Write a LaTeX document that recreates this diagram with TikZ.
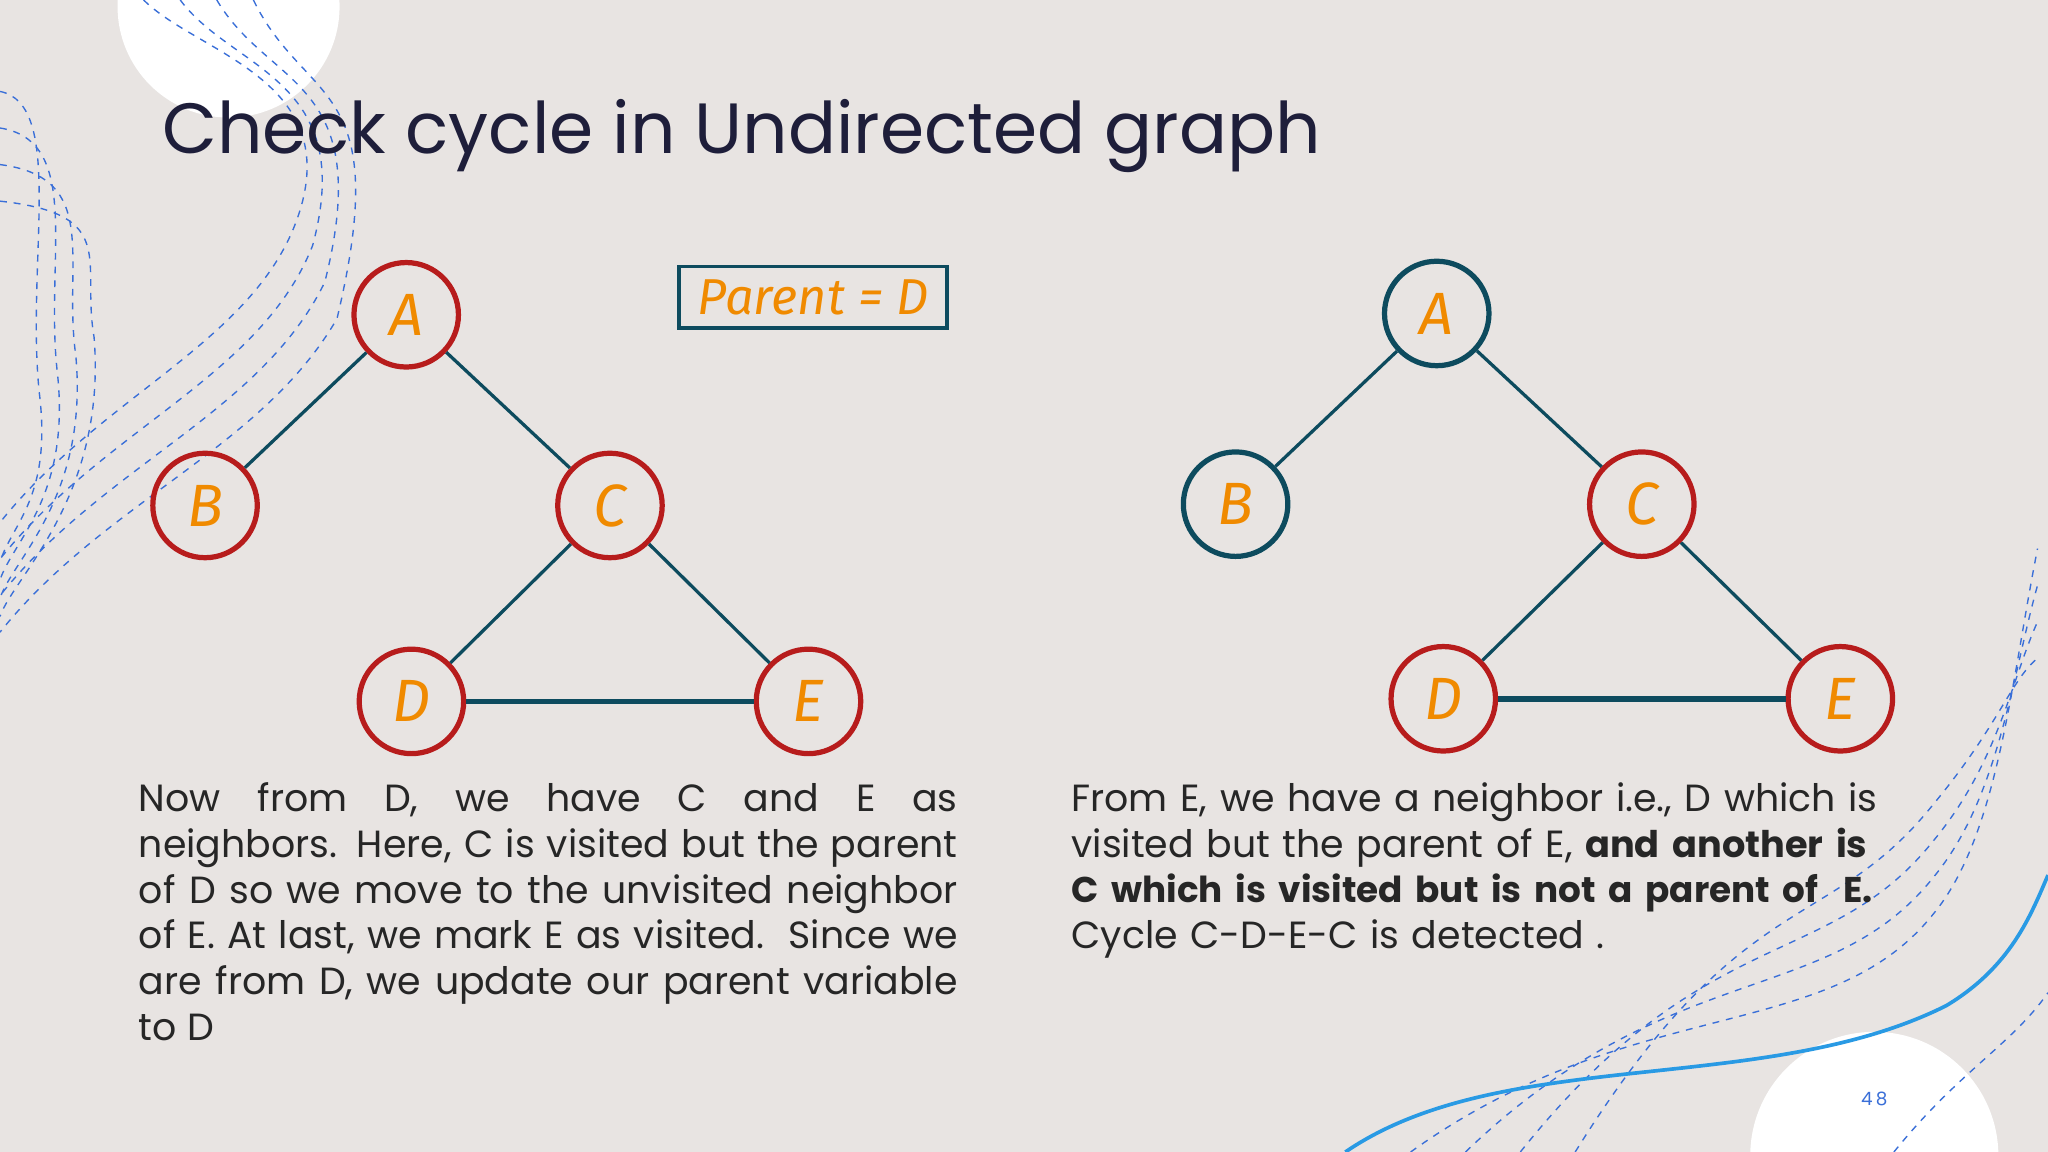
\documentclass[tikz,border=0pt]{standalone}
\usepackage{fontspec}
\setmainfont{Poppins}
\newfontfamily\hand{Fira Sans}
\usetikzlibrary{calc}
\definecolor{bg}{HTML}{E8E4E2}
\definecolor{nred}{HTML}{B71C1C}
\definecolor{nteal}{HTML}{0D4B5E}
\definecolor{lorange}{HTML}{F08A00}
\definecolor{dblue}{HTML}{3A6FD8}
\definecolor{title}{HTML}{1E1E3A}
\tikzset{
 vtx/.style={circle,draw=nred,line width=0.08cm,minimum size=1.6cm,inner sep=0pt,font=\hand\itshape\fontsize{26}{26}\selectfont,text=lorange},
 vtxt/.style={vtx,draw=nteal},
 edge/.style={draw=nteal,line width=0.05cm},
 thick edge/.style={draw=nteal,line width=0.085cm},
 contour/.style={draw=dblue,dashed,line width=0.6pt},
 para/.style={anchor=north west,text width=12.54cm,align=justify,font=\fontsize{16.5}{19.9}\selectfont,text=black!85,inner sep=0pt}
}
\begin{document}
\begin{tikzpicture}[x=0.02cm,y=-0.02cm]
\fill[bg] (0,0) rectangle (1568,882);
\useasboundingbox (0,0) rectangle (1568,882);
% decorations
\begin{scope}
\clip (0,0) rectangle (1568,882);
\fill[white] (175,5) circle (85);
\fill[white] (1435,885) circle (95);
\foreach \d in {0,28,56,84}{
 \draw[contour] (0,{70+\d}) .. controls ({50+\d/2},{80+\d}) and ({20+\d/2},{200}) .. ({30+\d/2},{300-\d/2}) .. controls ({40+\d/2},{380}) and ({10},{400+\d/2}) .. (0,{430+\d/2});
 \draw[contour] ({110+\d},0) .. controls ({150+\d},{40+\d/2}) and ({260+\d/2},{60}) .. ({230+\d/3},{160+\d}) .. controls ({200},{260+\d}) and ({80},{300+\d}) .. ({0},{400+\d});
 \draw[contour] ({1080+1.5*\d},882) .. controls ({1250+\d},{760-\d}) and ({1400},{800-\d}) .. ({1480},{700-\d}) .. controls ({1530},{640-\d}) and ({1540},{520}) .. ({1560},{420+\d});
}
\draw[contour] (1450,882) .. controls (1500,820) and (1540,800) .. (1568,760);
\draw[draw=dblue!70!cyan,line width=1.6pt] (1030,882) .. controls (1150,800) and (1350,840) .. (1490,770) .. controls (1540,740) and (1555,700) .. (1568,670);
\end{scope}
\node[anchor=west,font=\fontsize{31}{31}\selectfont,text=title] (ttl) at (118,104) {Check cycle in Undirected graph};
% left graph
\node[vtx] (A1) at (311,241) {A};
\node[vtx] (B1) at (157,387) {B};
\node[vtx] (C1) at (467,387) {C};
\node[vtx] (D1) at (315,537) {D};
\node[vtx] (E1) at (619,537) {E};
\draw[edge] (A1)--(B1); \draw[edge] (A1)--(C1); \draw[edge] (C1)--(D1); \draw[edge] (C1)--(E1);
\draw[thick edge] (D1)--(E1);
\node[draw=nteal,line width=1.5pt,minimum width=4.1cm,minimum height=0.94cm,font=\hand\itshape\fontsize{22}{22}\selectfont,text=lorange] (par) at (622.5,227.5) {Parent = D};
% right graph
\node[vtxt] (A2) at (1100,240) {A};
\node[vtxt] (B2) at (946,386) {B};
\node[vtx] (C2) at (1257,386) {C};
\node[vtx] (D2) at (1105,535) {D};
\node[vtx] (E2) at (1409,535) {E};
\draw[edge] (A2)--(B2); \draw[edge] (A2)--(C2); \draw[edge] (C2)--(D2); \draw[edge] (C2)--(E2);
\draw[thick edge] (D2)--(E2);
% texts
\node[para] (t1) at (106,599) {Now from D, we have C and E as\linebreak neighbors. Here, C is visited but the parent\linebreak of D so we move to the unvisited neighbor\linebreak of E. At last, we mark E as visited.\ \ Since we\linebreak are from D, we update our parent variable\linebreak to D};
\node[para,align=left,text width=14cm] (t2) at (820,599) {From E, we have a neighbor i.e., D which is\\ visited but the parent of E, {\fontsize{16}{19.9}\selectfont\textbf{and another is}}\\ {\fontsize{15.6}{19.9}\selectfont\textbf{C which is visited but is not a parent of\ \ E.}}\\ Cycle C-D-E-C is detected .};
\node[font=\fontsize{8}{8}\selectfont,text=dblue] (pg) at (1435,841) {4\,8};
\end{tikzpicture}
\end{document}
